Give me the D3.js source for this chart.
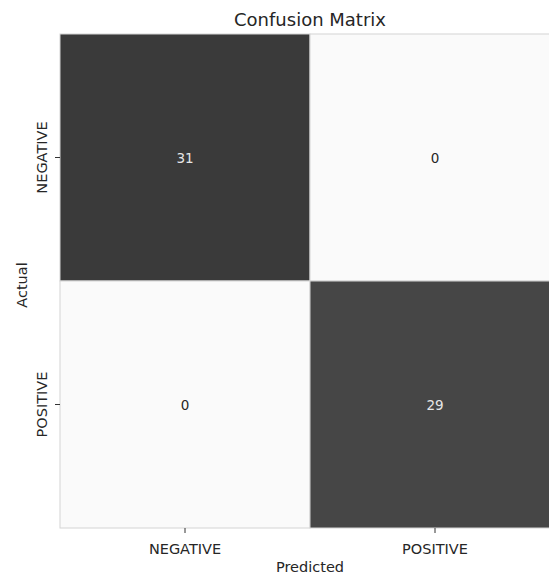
<!DOCTYPE html>
<html><head><meta charset="utf-8">
<script src="https://cdn.jsdelivr.net/npm/d3@7"></script>
<style>body{margin:0;background:#fff;}text{font-family:"DejaVu Sans",sans-serif;}</style>
</head><body>
<svg id="c" width="549" height="576"></svg>
<script>
const predictedLabels = ["NEGATIVE", "POSITIVE"];
const actualLabels = ["NEGATIVE", "POSITIVE"];
const matrix = [[31, 0], [0, 29]];
const title = "Confusion Matrix";

const svg = d3.select("#c");
const mLeft = 60, mTop = 34, cellW = 250, cellH = 247;
const x = d3.scaleBand().domain(predictedLabels).range([mLeft, mLeft + cellW * 2]);
const y = d3.scaleBand().domain(actualLabels).range([mTop, mTop + cellH * 2]);
const color = d3.scaleLinear().domain([0, 31]).range(["#fafafa", "#3a3a3a"]);

const cells = [];
actualLabels.forEach((a, i) => predictedLabels.forEach((p, j) => cells.push({a, p, v: matrix[i][j]})));

svg.selectAll("rect.cell").data(cells).join("rect")
  .attr("class", "cell")
  .attr("x", d => x(d.p)).attr("y", d => y(d.a))
  .attr("width", x.bandwidth()).attr("height", y.bandwidth())
  .attr("fill", d => color(d.v))
  .attr("stroke", "#d4d4d4").attr("stroke-width", 1);

svg.selectAll("text.val").data(cells).join("text")
  .attr("class", "val")
  .attr("x", d => x(d.p) + x.bandwidth() / 2)
  .attr("y", d => y(d.a) + y.bandwidth() / 2)
  .attr("text-anchor", "middle").attr("dominant-baseline", "central")
  .attr("font-size", 13.5)
  .attr("fill", d => d.v > 15 ? "#e6e6e6" : "#262626")
  .text(d => d.v);

const xAxis = svg.append("g").attr("transform", `translate(0,${mTop + cellH * 2})`)
  .call(d3.axisBottom(x).tickSize(5).tickPadding(11));
xAxis.select(".domain").remove();
xAxis.selectAll("text").attr("font-size", 14.5).attr("fill", "#262626").attr("font-family", "DejaVu Sans");
xAxis.selectAll("line").attr("stroke", "#333");

const yAxis = svg.append("g").attr("transform", `translate(${mLeft},0)`)
  .call(d3.axisLeft(y).tickSize(5));
yAxis.select(".domain").remove();
yAxis.selectAll("line").attr("stroke", "#333");
yAxis.selectAll("text")
  .attr("font-size", 14.5).attr("fill", "#262626").attr("font-family", "DejaVu Sans")
  .attr("transform", "rotate(-90)")
  .attr("x", 0).attr("y", -13).attr("dy", "0")
  .attr("text-anchor", "middle");

svg.append("text").attr("x", mLeft + cellW).attr("y", 572)
  .attr("text-anchor", "middle").attr("font-size", 14.5).attr("fill", "#262626").text("Predicted");
svg.append("text").attr("transform", `translate(27,${mTop + cellH + 4}) rotate(-90)`)
  .attr("text-anchor", "middle").attr("font-size", 14.5).attr("fill", "#262626").text("Actual");
svg.append("text").attr("x", mLeft + cellW).attr("y", 26)
  .attr("text-anchor", "middle").attr("font-size", 18).attr("fill", "#262626").text(title);
</script>
</body></html>
